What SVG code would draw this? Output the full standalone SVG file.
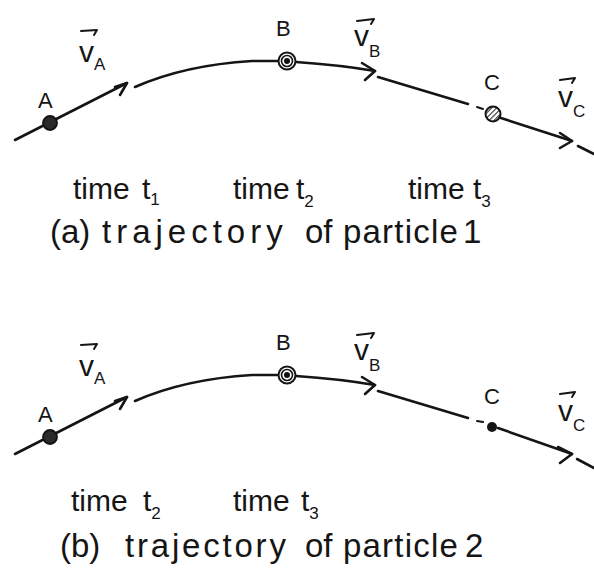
<svg xmlns="http://www.w3.org/2000/svg" width="594" height="581" viewBox="0 0 594 581">
<style>
.ln{stroke:#151515;stroke-width:2.6;fill:none;stroke-linecap:round;stroke-linejoin:round}
.thin{stroke:#151515;stroke-width:2;fill:none;stroke-linecap:round;stroke-linejoin:round}
.t{font-family:"Liberation Sans",Arial,sans-serif;fill:#151515}
.big{font-size:30px}
.cap{font-size:33px}
.lab{font-size:22px}
.v{font-size:30px}
.sub{font-size:17px}
</style>
<defs>
<pattern id="hatch" patternUnits="userSpaceOnUse" width="3.5" height="3.5" patternTransform="rotate(45)">
<rect width="3.5" height="3.5" fill="#fff"/>
<line x1="0" y1="0" x2="0" y2="3.5" stroke="#222" stroke-width="2"/>
</pattern>
</defs>
<rect width="594" height="581" fill="#fff"/>

<!-- Panel (a) -->
<g id="panel-a">
<g id="connectors-a">
<path class="ln" d="M15,140 L127,83"/>
<path class="ln" d="M115,87 L127,83 L120,95"/>
<path class="ln" d="M135,87 Q185,65 252,61 L279,61"/>
<path class="ln" d="M296,62 Q340,65 375,71"/>
<path class="ln" d="M362,63 L375,71 L365,80"/>
<path class="ln" d="M378,77 L468,104"/>
<path class="thin" d="M477,107 L483,109"/>
<path class="ln" d="M501,118 L572,141"/>
<path class="ln" d="M560,133 L572,141 L560,148"/>
<path class="ln" d="M578,146 L594,154"/>
</g>
<g id="a-node-A">
<circle cx="50" cy="123" r="7" fill="#2a2a2a" stroke="#111" stroke-width="1.8"/>
<text class="t lab" x="38" y="108">A</text>
</g>
<g id="a-node-B">
<circle cx="287" cy="61" r="8.5" fill="#fff" stroke="#151515" stroke-width="2"/>
<circle cx="287" cy="61" r="5.5" fill="none" stroke="#151515" stroke-width="1.6"/>
<circle cx="287" cy="61" r="3" fill="#111"/>
<text class="t lab" x="276" y="36">B</text>
</g>
<g id="a-node-C">
<circle cx="493" cy="114" r="7.5" fill="url(#hatch)" stroke="#151515" stroke-width="2"/>
<text class="t lab" x="484" y="90">C</text>
</g>
<g id="a-vA">
<path class="thin" d="M81,31 L97,30 L94,35"/>
<text class="t v" x="79" y="62">v<tspan class="sub" dy="8">A</tspan></text>
</g>
<g id="a-vB">
<path class="thin" d="M357,21 L374,19 L371,24"/>
<text class="t v" x="354" y="46">v<tspan class="sub" dy="11">B</tspan></text>
</g>
<g id="a-vC">
<path class="thin" d="M560,80 L575,78 L572,83"/>
<text class="t v" x="558" y="107">v<tspan class="sub" dy="10">C</tspan></text>
</g>
<g id="a-texts">
<text class="t big" x="73" y="199">time</text>
<text class="t big" x="142" y="199">t<tspan class="sub" dy="6">1</tspan></text>
<text class="t big" x="233" y="199">time</text>
<text class="t big" x="296" y="199">t<tspan class="sub" dy="8">2</tspan></text>
<text class="t big" x="408" y="199">time</text>
<text class="t big" x="473" y="199">t<tspan class="sub" dy="8">3</tspan></text>
<text class="t cap" x="50" y="243">(a)</text>
<text class="t cap" x="102" y="243" letter-spacing="5">trajectory</text>
<text class="t cap" x="305" y="243">of</text>
<text class="t cap" x="343" y="243" letter-spacing="1.2">particle</text>
<text class="t cap" x="463" y="243">1</text>
</g>
</g>

<!-- Panel (b) -->
<g id="panel-b" transform="translate(0,314)">
<g id="connectors-b">
<path class="ln" d="M15,140 L127,83"/>
<path class="ln" d="M115,87 L127,83 L120,95"/>
<path class="ln" d="M135,87 Q185,65 252,61 L279,61"/>
<path class="ln" d="M296,62 Q340,65 375,71"/>
<path class="ln" d="M362,63 L375,71 L365,80"/>
<path class="ln" d="M378,77 L468,104"/>
<path class="thin" d="M477,107 L483,108"/>
<path class="ln" d="M498,114 L572,140"/>
<path class="ln" d="M558,133 L572,140 L560,149"/>
<path class="ln" d="M577,145 L594,154"/>
</g>
<g id="b-node-A">
<circle cx="50" cy="123" r="7" fill="#2a2a2a" stroke="#111" stroke-width="1.8"/>
<text class="t lab" x="38" y="108">A</text>
</g>
<g id="b-node-B">
<circle cx="287" cy="61" r="8.5" fill="#fff" stroke="#151515" stroke-width="2"/>
<circle cx="287" cy="61" r="5.5" fill="none" stroke="#151515" stroke-width="1.6"/>
<circle cx="287" cy="61" r="3" fill="#111"/>
<text class="t lab" x="276" y="36">B</text>
</g>
<g id="b-node-C">
<circle cx="492" cy="113" r="5" fill="#151515"/>
<text class="t lab" x="484" y="90">C</text>
</g>
<g id="b-vA">
<path class="thin" d="M81,31 L97,30 L94,35"/>
<text class="t v" x="79" y="62">v<tspan class="sub" dy="8">A</tspan></text>
</g>
<g id="b-vB">
<path class="thin" d="M357,21 L374,19 L371,24"/>
<text class="t v" x="354" y="46">v<tspan class="sub" dy="11">B</tspan></text>
</g>
<g id="b-vC">
<path class="thin" d="M560,80 L575,78 L572,83"/>
<text class="t v" x="558" y="107">v<tspan class="sub" dy="10">C</tspan></text>
</g>
<g id="b-texts">
<text class="t big" x="71" y="197">time</text>
<text class="t big" x="143" y="197">t<tspan class="sub" dy="8">2</tspan></text>
<text class="t big" x="233" y="197">time</text>
<text class="t big" x="301" y="197">t<tspan class="sub" dy="8">3</tspan></text>
<text class="t cap" x="60" y="243">(b)</text>
<text class="t cap" x="125" y="243" letter-spacing="2.8">trajectory</text>
<text class="t cap" x="305" y="243">of</text>
<text class="t cap" x="343" y="243" letter-spacing="1.2">particle</text>
<text class="t cap" x="465" y="243">2</text>
</g>
</g>
</svg>
